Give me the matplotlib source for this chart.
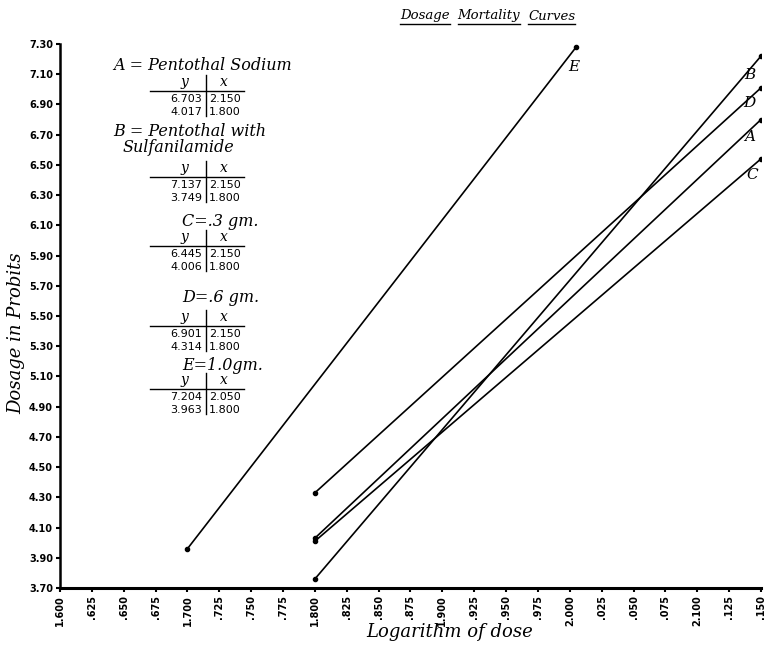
import matplotlib
matplotlib.use("Agg")
import matplotlib.pyplot as plt
import numpy as np

# ---- data ----
curve_names = ["A", "B", "C", "D", "E"]
curve_x = {
    "A": [1.800, 2.150],
    "B": [1.800, 2.150],
    "C": [1.800, 2.150],
    "D": [1.800, 2.150],
    "E": [1.700, 2.005],
}
curve_y = {
    "A": [4.03, 6.80],
    "B": [3.76, 7.22],
    "C": [4.01, 6.54],
    "D": [4.33, 7.01],
    "E": [3.96, 7.28],
}
x_ticks = [1.600 + 0.025 * i for i in range(23)]
x_tick_labels = ["1.600", ".625", ".650", ".675", "1.700", ".725", ".750", ".775",
                 "1.800", ".825", ".850", ".875", "1.900", ".925", ".950", ".975",
                 "2.000", ".025", ".050", ".075", "2.100", ".125", ".150"]
y_ticks = [3.70 + 0.2 * i for i in range(19)]
y_tick_labels = ["3.70", "3.90", "4.10", "4.30", "4.50", "4.70", "4.90", "5.10", "5.30",
                 "5.50", "5.70", "5.90", "6.10", "6.30", "6.50", "6.70", "6.90", "7.10", "7.30"]

legend_titles = ["A = Pentothal Sodium", "B = Pentothal with", "C=.3 gm.", "D=.6 gm.", "E=1.0gm."]
legend_sub = "Sulfanilamide"
table_y = [["6.703", "4.017"], ["7.137", "3.749"], ["6.445", "4.006"], ["6.901", "4.314"], ["7.204", "3.963"]]
table_x = [["2.150", "1.800"], ["2.150", "1.800"], ["2.150", "1.800"], ["2.150", "1.800"], ["2.050", "1.800"]]

W, H = 767, 645
fig = plt.figure(figsize=(W / 100, H / 100), dpi=100)
fig.patch.set_facecolor("white")

def fx(px):
    return px / W

def fy(py):
    return 1 - py / H

ax = fig.add_axes([fx(60), fy(588), fx(761) - fx(60), fy(44) - fy(588)])
ax.set_xlim(1.600, 2.150)
ax.set_ylim(3.70, 7.30)
for s in ["top", "right"]:
    ax.spines[s].set_visible(False)
ax.spines["left"].set_linewidth(1.8)
ax.spines["bottom"].set_linewidth(2.2)

ax.set_xticks(x_ticks)
ax.set_xticklabels(x_tick_labels, rotation=90, fontsize=7, fontweight="bold", family="DejaVu Sans")
ax.set_yticks(y_ticks)
ax.set_yticklabels(y_tick_labels, fontsize=7, fontweight="bold", family="DejaVu Sans")
ax.tick_params(axis="both", length=3, width=1.5, pad=2)

serif_it = dict(family="DejaVu Serif", style="italic")

label_pos = {"A": (2.141, 6.685), "B": (2.141, 7.095), "C": (2.143, 6.43), "D": (2.141, 6.91), "E": (2.003, 7.148)}
for name in curve_names:
    ax.plot(curve_x[name], curve_y[name], color="black", lw=1.2, marker="o", ms=3,
            solid_capstyle="round")
    lx, ly = label_pos[name]
    ax.text(lx, ly, name, fontsize=11, ha="center", va="center", **serif_it)

# axis labels
fig.text(fx(16), fy(333), "Dosage in Probits", rotation=90, ha="center", va="center",
         fontsize=13, **serif_it)
fig.text(fx(450), fy(632), "Logarithm of dose", ha="center", va="center", fontsize=13, **serif_it)

# title with underlined words
renderer = fig.canvas.get_renderer()
words = ["Dosage", "Mortality", "Curves"]
cx = 400
for w in words:
    t = fig.text(fx(cx), fy(16), w, ha="left", va="center", fontsize=9.5, **serif_it)
    bb = t.get_window_extent(renderer=renderer)
    y0 = bb.y0 - 1.5
    fig.add_artist(plt.Line2D([bb.x0 / W, bb.x1 / W], [y0 / H, y0 / H], color="black", lw=1.0))
    cx = cx + bb.width + 8

# legend tables
title_pos = [(113, 66), (113, 131), (182, 221), (182, 298), (182, 365)]
header_y = [82, 168, 237, 317, 380]
vline_x = 206
for i in range(5):
    tx, ty = title_pos[i]
    fig.text(fx(tx), fy(ty), legend_titles[i], ha="left", va="center", fontsize=11.5, **serif_it)
    if i == 1:
        fig.text(fx(123), fy(147), legend_sub, ha="left", va="center", fontsize=11.5, **serif_it)
    hy = header_y[i]
    fig.text(fx(184), fy(hy), "y", ha="center", va="center", fontsize=10, **serif_it)
    fig.text(fx(224), fy(hy), "x", ha="center", va="center", fontsize=10, **serif_it)
    fig.add_artist(plt.Line2D([fx(150), fx(244)], [fy(hy + 9), fy(hy + 9)], color="black", lw=1.0))
    fig.add_artist(plt.Line2D([fx(vline_x), fx(vline_x)], [fy(hy - 7), fy(hy + 34)], color="black", lw=1.0))
    for r in range(2):
        ry = hy + 17 + r * 13
        fig.text(fx(202), fy(ry), table_y[i][r], ha="right", va="center", fontsize=8,
                 family="DejaVu Sans")
        fig.text(fx(209), fy(ry), table_x[i][r], ha="left", va="center", fontsize=8,
                 family="DejaVu Sans")

fig.savefig("out.png", dpi=100)
